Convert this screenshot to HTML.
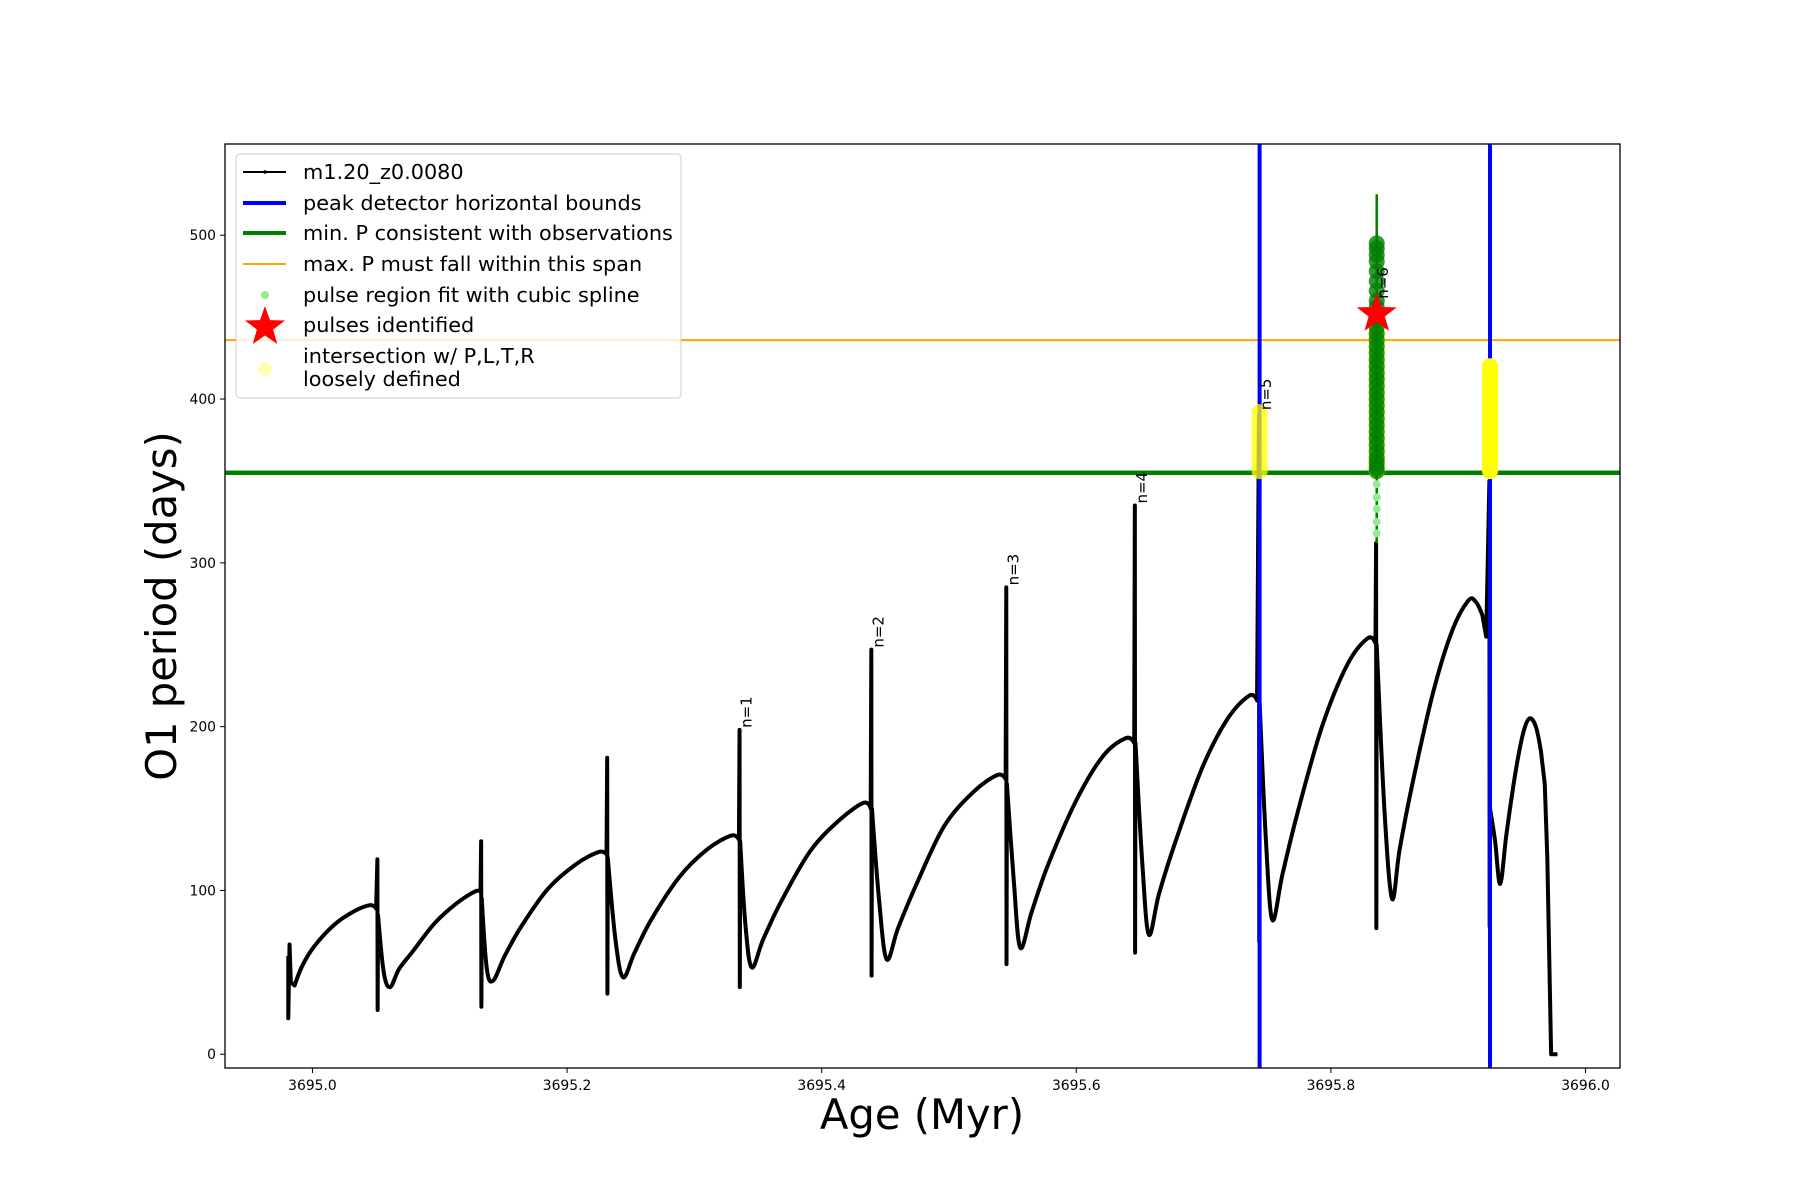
<!DOCTYPE html>
<html><head><meta charset="utf-8"><style>
html,body{margin:0;padding:0;background:#fff;}
svg{display:block;font-family:"DejaVu Sans","Liberation Sans",sans-serif;}
</style></head><body>
<svg id="chart" width="1800" height="1200" viewBox="0 0 1800 1200" xmlns="http://www.w3.org/2000/svg">
<rect width="1800" height="1200" fill="#fff"/>
<defs><clipPath id="clip"><rect x="225" y="144" width="1395" height="924"/></clipPath></defs>
<g id="plot" clip-path="url(#clip)"></g>
<g id="axes"></g>
<g id="legend"></g>
</svg>
<script>
// ---- data ----
const seriesAge = [
3694.981,3694.981,3694.982,3694.983,3694.986,3694.992,3695.0015,3695.017,3695.032,3695.045,3695.050,
3695.051,3695.0512,3695.0515,3695.056,3695.061,3695.068,3695.079,3695.096,3695.113,3695.128,3695.132,
3695.1325,3695.1327,3695.133,3695.137,3695.142,3695.151,3695.164,3695.185,3695.207,3695.225,3695.231,
3695.2315,3695.2317,3695.232,3695.238,3695.244,3695.253,3695.266,3695.288,3695.310,3695.329,3695.335,
3695.3355,3695.3357,3695.336,3695.340,3695.345,3695.354,3695.368,3695.391,3695.414,3695.433,3695.4385,
3695.439,3695.4392,3695.4395,3695.445,3695.451,3695.460,3695.474,3695.496,3695.519,3695.538,3695.5445,
3695.545,3695.5452,3695.5455,3695.551,3695.556,3695.565,3695.578,3695.600,3695.621,3695.639,3695.6455,
3695.646,3695.6462,3695.6465,3695.652,3695.657,3695.665,3695.678,3695.699,3695.719,3695.736,3695.742,
3695.7435,3695.7437,3695.744,3695.749,3695.754,3695.762,3695.774,3695.793,3695.813,3695.829,3695.835,
3695.8355,3695.8357,3695.836,3695.842,3695.848,3695.854,3695.864,3695.880,3695.895,3695.908,3695.914,3695.919,3695.922,
3695.9245,3695.9247,3695.925,3695.929,3695.933,3695.938,3695.945,3695.951,3695.956,3695.961,3695.965,3695.968,3695.970,3695.972,3695.973,3695.978];
const seriesP = [
60,22,67,44,42,54,66,79,87,91,89,
119,27,85,50,41,52,63,80,92,99.5,99,
130,29,95,52,45,60,78,101,116,123.5,122,
181,37,120,70,47,62,82,108,125,133.5,131,
198,41,130,80,53,70,93,124,143,153.5,150,
247,48,150,95,58,77,103,139,160,170.5,168,
285,55,165,105,65,87,116,155,182,193,190,
335,62,190,115,73,98,130,175,205,219,216,
390,69,215,130,82,110,148,200,238,254,251,
312,77,250,150,95,125,165,220,258,277,276,268,255,
350,78,150,130,104,135,172,196,205,200,185,165,120,40,0,0];
const boundAges = [3695.744, 3695.925];
const minP = 355;
const maxP = 436;
const splineAge = 3695.836;
const splineTopP = 525;
const splineBottomP = 312;
const greenDarkP = [356,358,361,364,368,372,376,380,384,388,392,396,400,404,408,412,416,420,424,428,432,436,440,444,448,452,456,460,466,472,478,484,488,492,495];
const greenLightP = [318,325,333,340,348];
const yellowAges = [3695.744, 3695.836, 3695.925];
const yellowLowP = [356, 356, 356];
const yellowHighP = [392, 440, 420];
const starAge = 3695.836, starP = 452;
const pulseLabels = ["n=1","n=2","n=3","n=4","n=5","n=6"];
const pulseAges = [3695.3355,3695.439,3695.545,3695.646,3695.7435,3695.8355];
const pulseLabelP = [198,247,285,335,392,460];
const xTicks = [3695.0,3695.2,3695.4,3695.6,3695.8,3696.0];
const xTickLabels = ["3695.0","3695.2","3695.4","3695.6","3695.8","3696.0"];
const yTicks = [0,100,200,300,400,500];
const yTickLabels = ["0","100","200","300","400","500"];

// ---- scales ----
const L=225,R=1620,T=144,B=1068;
const xmin=3694.9313,xmax=3696.0271,ymin=-8.4,ymax=555.7;
const X=v=>L+(v-xmin)/(xmax-xmin)*(R-L);
const Y=v=>B-(v-ymin)/(ymax-ymin)*(B-T);
const NS="http://www.w3.org/2000/svg";
function mk(tag,attrs,parent){const e=document.createElementNS(NS,tag);for(const k in attrs)e.setAttribute(k,attrs[k]);parent.appendChild(e);return e;}
const plot=document.getElementById('plot'),axes=document.getElementById('axes'),leg=document.getElementById('legend');

let e=mk('line',{x1:L,x2:R,y1:Y(maxP),y2:Y(maxP),stroke:'orange','stroke-width':2},plot);


e=mk('line',{x1:L,x2:R,y1:Y(minP),y2:Y(minP),stroke:'green','stroke-width':4.5},plot);



const pts=seriesAge.map((a,i)=>[X(a),Y(seriesP[i])]);
let d='M'+pts[0][0].toFixed(2)+','+pts[0][1].toFixed(2);
for(let i=0;i<pts.length-1;i++){
  const p0=pts[Math.max(0,i-1)],p1=pts[i],p2=pts[i+1],p3=pts[Math.min(pts.length-1,i+2)];
  const dx=p2[0]-p1[0];
  if(dx<4){d+=' L'+p2[0].toFixed(2)+','+p2[1].toFixed(2);continue;}
  const sharp0=(p1[0]-p0[0])<4, sharp3=(p3[0]-p2[0])<4;
  const c1=sharp0?p1:[p1[0]+(p2[0]-p0[0])/6,p1[1]+(p2[1]-p0[1])/6];
  const c2=sharp3?p2:[p2[0]-(p3[0]-p1[0])/6,p2[1]-(p3[1]-p1[1])/6];
  d+=' C'+c1[0].toFixed(2)+','+c1[1].toFixed(2)+' '+c2[0].toFixed(2)+','+c2[1].toFixed(2)+' '+p2[0].toFixed(2)+','+p2[1].toFixed(2);
}
e=mk('path',{d:d,fill:'none',stroke:'#000','stroke-width':4,'stroke-linejoin':'round'},plot);



boundAges.forEach((a,i)=>{
  const l=mk('line',{x1:X(a),x2:X(a),y1:T,y2:B,stroke:'blue','stroke-width':4},plot);
  
  
});

yellowAges.forEach((a,i)=>{
  const r=mk('line',{x1:X(a),x2:X(a),y1:Y(yellowLowP[i]),y2:Y(yellowHighP[i]),stroke:'yellow','stroke-width':16,'stroke-linecap':'round',opacity:i===0?0.75:1},plot);
  
  
});
e=mk('line',{x1:X(splineAge),x2:X(splineAge),y1:Y(splineBottomP),y2:Y(splineTopP),stroke:'green','stroke-width':2.5},plot);


greenLightP.forEach(p=>{
  const c=mk('circle',{cx:X(splineAge),cy:Y(p),r:4,fill:'lightgreen'},plot);
  
  
});
greenDarkP.forEach(p=>{
  const c=mk('circle',{cx:X(splineAge),cy:Y(p),r:8,fill:'green',opacity:0.8},plot);
  
  
});
function starPath(cx,cy,ro,ri){let s='';for(let k=0;k<10;k++){const r=k%2?ri:ro;const a=-Math.PI/2+k*Math.PI/5;s+=(k?'L':'M')+(cx+r*Math.cos(a)).toFixed(1)+','+(cy+r*Math.sin(a)).toFixed(1);}return s+'Z';}
e=mk('path',{d:starPath(X(starAge),Y(starP),21,8.5),fill:'red'},plot);



pulseLabels.forEach((t,i)=>{
  const x=X(pulseAges[i])+12,y=Y(pulseLabelP[i])-2;
  const tx=mk('text',{x:x,y:y,'font-size':15,transform:'rotate(-90 '+x+' '+y+')'},plot);
  tx.textContent=t;
  
  
});

e=mk('rect',{x:L,y:T,width:R-L,height:B-T,fill:'none',stroke:'#000','stroke-width':1.3},axes);


xTicks.forEach((v,i)=>{
  mk('line',{x1:X(v),x2:X(v),y1:B,y2:B+5,stroke:'#000','stroke-width':1},axes);
  const t=mk('text',{x:X(v),y:B+22,'font-size':13.9,'text-anchor':'middle'},axes);
  t.textContent=xTickLabels[i];
  
  
});
yTicks.forEach((v,i)=>{
  mk('line',{x1:L-5,x2:L,y1:Y(v),y2:Y(v),stroke:'#000','stroke-width':1},axes);
  const t=mk('text',{x:L-9,y:Y(v)+5,'font-size':13.9,'text-anchor':'end'},axes);
  t.textContent=yTickLabels[i];
  
  
});
e=mk('text',{x:922,y:1129,'font-size':41.7,'text-anchor':'middle'},axes);
e.textContent='Age (Myr)';


e=mk('text',{x:176,y:606,'font-size':41.7,'text-anchor':'middle',transform:'rotate(-90 176 606)'},axes);
e.textContent='O1 period (days)';



e=mk('rect',{x:236,y:154,width:445,height:244,rx:4,fill:'#fff','fill-opacity':0.8,stroke:'#ccc','stroke-width':1},leg);


const rows=[172,203,233,264,295,325];
const labels=['m1.20_z0.0080','peak detector horizontal bounds','min. P consistent with observations','max. P must fall within this span','pulse region fit with cubic spline','pulses identified'];
labels.forEach((s,i)=>{
  const t=mk('text',{x:303,y:rows[i]+7,'font-size':20.8},leg);
  t.textContent=s;
  
  
});
mk('line',{x1:243,x2:286,y1:rows[0],y2:rows[0],stroke:'#000','stroke-width':2},leg);
mk('circle',{cx:265,cy:rows[0],r:1.8,fill:'#000'},leg);
mk('line',{x1:243,x2:286,y1:rows[1],y2:rows[1],stroke:'blue','stroke-width':4},leg);
mk('line',{x1:243,x2:286,y1:rows[2],y2:rows[2],stroke:'green','stroke-width':4},leg);
mk('line',{x1:243,x2:286,y1:rows[3],y2:rows[3],stroke:'orange','stroke-width':2},leg);
mk('circle',{cx:265,cy:rows[4],r:4,fill:'lightgreen'},leg);
mk('path',{d:starPath(265,rows[5]+2,21,8.5),fill:'red'},leg);
mk('circle',{cx:265,cy:369,r:7,fill:'#ffffb3'},leg);
e=mk('text',{x:303,y:363,'font-size':20.8},leg);
e.textContent='intersection w/ P,L,T,R';


e=mk('text',{x:303,y:386,'font-size':20.8},leg);
e.textContent='loosely defined';


</script>
</body></html>
